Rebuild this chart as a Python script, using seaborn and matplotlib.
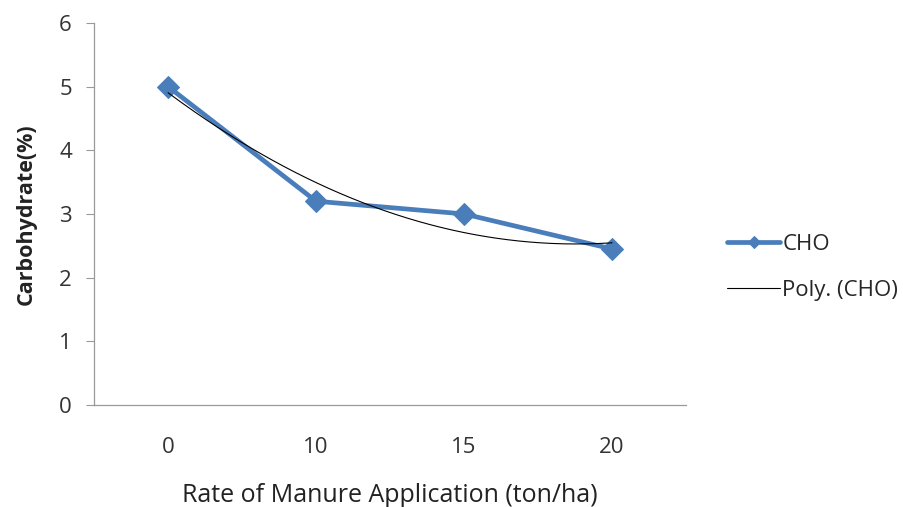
import numpy as np
import pandas as pd
import matplotlib.pyplot as plt
import seaborn as sns

# data
rates = ["0", "10", "15", "20"]
cho = [5.0, 3.2, 3.0, 2.45]

sns.set_style("white")
plt.rcParams['font.family'] = ['Open Sans', 'DejaVu Sans']

df = pd.DataFrame({"pos": np.arange(len(rates)), "CHO": cho})

# Excel style 2nd order polynomial trendline on category positions
coef = np.polyfit(df["pos"], df["CHO"], 2)
xs = np.linspace(0, len(rates) - 1, 200)
trend = pd.DataFrame({"pos": xs, "fit": np.polyval(coef, xs)})

fig = plt.figure(figsize=(9.04, 5.07), dpi=100)
ax = fig.add_axes([0.104, 0.201, 0.655, 0.754])

sns.lineplot(data=df, x="pos", y="CHO", ax=ax, color="#4A7EBB", linewidth=3.4,
             marker="D", markersize=11, markeredgecolor="#4A7EBB", label="CHO")
sns.lineplot(data=trend, x="pos", y="fit", ax=ax, color="black", linewidth=0.8,
             label="Poly. (CHO)")

ax.set_xlim(-0.5, len(rates) - 0.5)
ax.set_ylim(0, 6)
ax.set_xticks(range(len(rates)))
ax.set_xticklabels(rates)
ax.set_yticks(range(0, 7))
ax.tick_params(axis="x", length=0, pad=23, labelsize=16, colors="#333333")
ax.tick_params(axis="y", length=6, width=0.8, color="#999999", pad=10,
               labelsize=16, labelcolor="#333333", left=True)

for side in ["top", "right"]:
    ax.spines[side].set_visible(False)
for side in ["left", "bottom"]:
    ax.spines[side].set_color("#999999")
    ax.spines[side].set_linewidth(0.9)

ax.set_xlabel("Rate of Manure Application (ton/ha)", fontsize=18, labelpad=18, color="#222222")
ax.set_ylabel("Carbohydrate(%)", fontsize=15.5, fontweight="bold", labelpad=16, color="#222222")

ax.legend(loc="center left", bbox_to_anchor=(1.05, 0.36), frameon=False, borderpad=0,
          fontsize=16, handlelength=2.4, labelspacing=1.1, handletextpad=0.1,
          markerscale=0.6)

fig.savefig("out.png", dpi=100)
